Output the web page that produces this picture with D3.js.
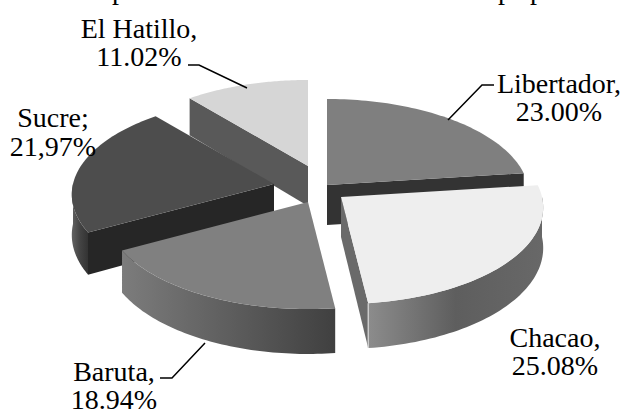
<!DOCTYPE html>
<html><head><meta charset="utf-8">
<script src="https://cdnjs.cloudflare.com/ajax/libs/d3/7.8.5/d3.min.js"></script>
<style>html,body{margin:0;padding:0;background:#fff}svg{display:block}text{font-family:"Liberation Serif",serif;fill:#000}</style>
</head><body><svg id="c" width="623" height="411"></svg>
<script>
const categories = ["Libertador","Chacao","Baruta","Sucre","El Hatillo"];
const shares = [23.00,25.08,18.94,21.97,11.02];
const shareLabels = ["23.00%","25.08%","18.94%","21,97%","11.02%"];
const separators = [",",",",",",";",","];
const topColors = ["#7f7f7f","#eeeeee","#808080","#4d4d4d","#d6d6d6"];
const faceColors = ["#333333","#6a6a6a","#555555","#262626","#595959"];
const wallStops = [["#444","#444","#333"],["#8c8c8c","#5e5e5e","#686868"],["#7c7c7c","#5e5e5e","#404040"],["#626262","#444444","#333333"],["#666","#5a5a5a","#555"]];
const explodeDX = [7,21,-12,-46,-12];
const explodeDY = [-2,10,15,-3,-21];
const labelX = [559,555,114,53,139];
const labelY = [[93,121],[347,375],[381,409],[127,156],[38,66]];
const leaders = [[[448,120],[482,85],[494,85]],null,[[205,343],[172,378],[160,378]],null,[[247,88],[199,65],[188,65]]];

const cx=320, cy=187, R=201, A=95.4, K=0.109, depth=40;
const svg=d3.select("#c");
const defs=svg.append("defs");
// top-clipped line of the title: only descenders are on the page
[112,498,530].forEach(x=>svg.append("text").attr("x",x).attr("y",-1).attr("font-size",28).text("p"));

const pie=d3.pie().sort(null).value(d=>d)(shares);
const proj=(a,r)=>{const z=Math.cos(a)*r,x=Math.sin(a)*r,s=1/(1+K*z);return [x*R*s,-z*A*s,depth*s];};
const arcPts=(a0,a1)=>d3.range(0,61).map(i=>proj(a0+(a1-a0)*i/60,1));
const line=d3.line();
const order=[4,3,0,2,1];
const faceAngle=[p=>p.endAngle,p=>p.endAngle,null,p=>p.startAngle,p=>p.startAngle+0];
order.forEach(i=>{
  const p=pie[i],g=svg.append("g").attr("transform",`translate(${cx+explodeDX[i]},${cy+explodeDY[i]})`);
  const c=proj(0,0);
  const pts=arcPts(p.startAngle,p.endAngle);
  const wa0=Math.max(p.startAngle,Math.PI/2),wa1=Math.min(p.endAngle,Math.PI*1.5);
  const face=a=>{const e=proj(a,1);return [[c[0],c[1]],[e[0],e[1]],[e[0],e[1]+e[2]],[c[0],c[1]+c[2]]];};
  if(faceAngle[i]) g.append("path").attr("d",line(face(faceAngle[i](p)))+"Z").attr("fill",faceColors[i]);
  if(wa1>wa0){
    const w=d3.range(0,61).map(k=>proj(wa0+(wa1-wa0)*k/60,1));
    const id="w"+i, xs=w.map(d=>d[0]);
    const lg=defs.append("linearGradient").attr("id",id).attr("gradientUnits","userSpaceOnUse")
      .attr("x1",d3.min(xs)).attr("x2",d3.max(xs)).attr("y1",0).attr("y2",0);
    // walls are shaded from their left end to their right end
    wallStops[i].forEach((col,k)=>lg.append("stop").attr("offset",k/2).attr("stop-color",col));
    const poly=w.map(d=>[d[0],d[1]]).concat(w.slice().reverse().map(d=>[d[0],d[1]+d[2]]));
    g.append("path").attr("d",line(poly)+"Z").attr("fill",`url(#${id})`);
  }
  const top=[[c[0],c[1]]].concat(pts.map(d=>[d[0],d[1]]));
  g.append("path").attr("d",line(top)+"Z").attr("fill",topColors[i]);
  if(i===1){
    const e=proj(p.endAngle,1);
    g.append("path").attr("d",line([[e[0],e[1]],[e[0],e[1]+e[2]]])).attr("stroke","#d8d8d8").attr("stroke-width",1.2).attr("fill","none");
  }
});
categories.forEach((n,i)=>{
  [n+separators[i],shareLabels[i]].forEach((t,j)=>{
    svg.append("text").attr("x",labelX[i]).attr("y",labelY[i][j]).attr("text-anchor","middle").attr("font-size",28).text(t);
  });
  if(leaders[i]) svg.append("path").attr("d",d3.line()(leaders[i])).attr("fill","none").attr("stroke","#000").attr("stroke-width",1.5);
});
</script></body></html>
